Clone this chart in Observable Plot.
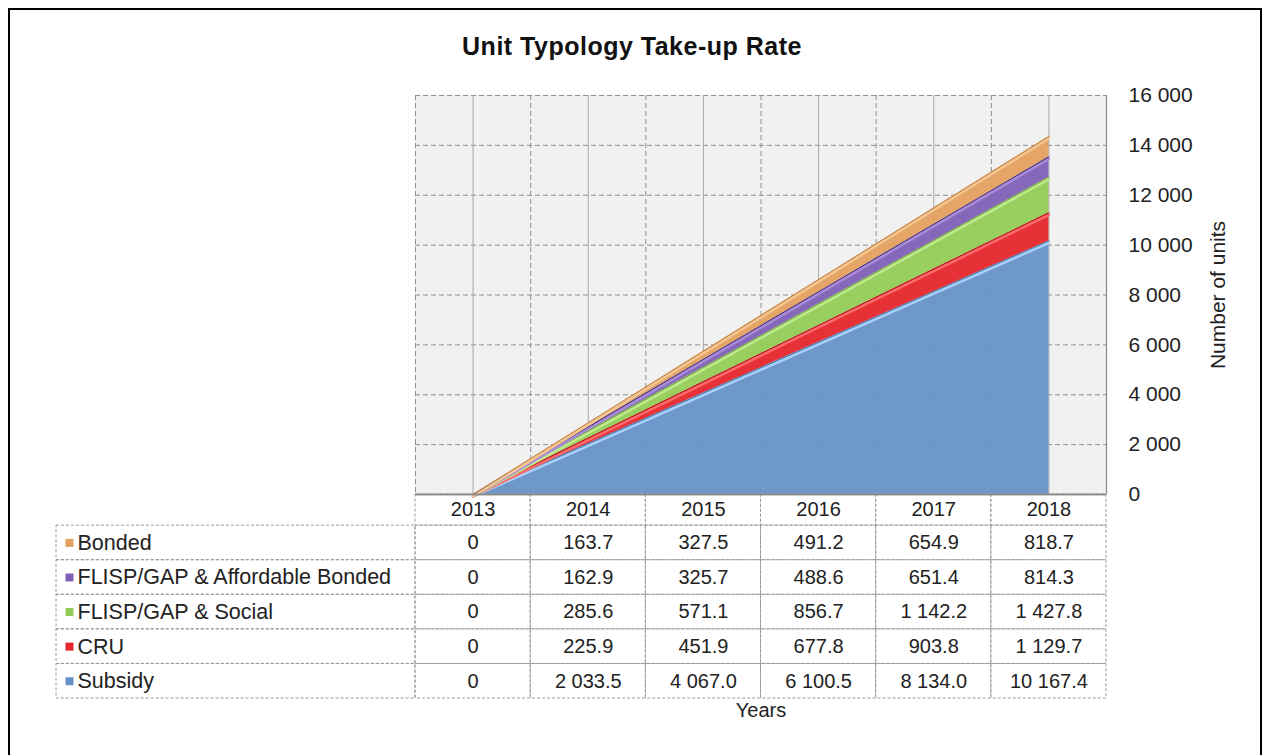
<!DOCTYPE html>
<html>
<head>
<meta charset="utf-8">
<script src="https://cdn.jsdelivr.net/npm/d3@7"></script>
<script src="https://cdn.jsdelivr.net/npm/@observablehq/plot@0.6"></script>
<style>
  html, body { margin: 0; padding: 0; background: #fff; overflow: hidden; }
  #root { position: relative; width: 1264px; height: 755px; font-family: "Liberation Sans", Arial, sans-serif; }
  #frame { position: absolute; left: 8px; top: 8px; width: 1250px; height: 800px; border: 2.5px solid #000; box-sizing: content-box; }
  #title { position: absolute; left: 0; width: 1264px; top: 32px; text-align: center; font-weight: bold; font-size: 25px; letter-spacing: 0.5px; color: #111; }
  #chart, #table { position: absolute; left: 0; }
  #chart { top: 0; }
  #table { top: 494px; }
  svg { overflow: visible; background: transparent !important; }
</style>
</head>
<body>
<div id="root">
  <div id="frame"></div>
  <div id="title">Unit Typology Take-up Rate</div>
  <div id="chart"></div>
  <div id="table"></div>
</div>
<script>
// ---- data ----
const years = [2013, 2014, 2015, 2016, 2017, 2018];
const seriesNames = ["Bonded", "FLISP/GAP & Affordable Bonded", "FLISP/GAP & Social", "CRU", "Subsidy"];
const bonded     = [0, 163.7, 327.5, 491.2, 654.9, 818.7];
const affordable = [0, 162.9, 325.7, 488.6, 651.4, 814.3];
const social     = [0, 285.6, 571.1, 856.7, 1142.2, 1427.8];
const cru        = [0, 225.9, 451.9, 677.8, 903.8, 1129.7];
const subsidy    = [0, 2033.5, 4067.0, 6100.5, 8134.0, 10167.4];
const yTicks = [0, 2000, 4000, 6000, 8000, 10000, 12000, 14000, 16000];
const seriesColors = ["#e3a05e", "#8060b6", "#92cc55", "#e5262b", "#6592c6"];
const seriesHighlights = ["#f3c692", "#a98ad8", "#bfe98f", "#ff6a6a", "#a9d0fa"];
const seriesShadows = ["#b97a3c", "#3e2a63", "#6a9a35", "#a81419", "#4a73a6"];

const valuesBySeries = [bonded, affordable, social, cru, subsidy];
const rows = seriesNames.map((name, i) => ({name, row: i, values: valuesBySeries[i]}));
const long = rows.flatMap(r => years.map((yr, j) => ({series: r.name, row: r.row, year: yr, value: r.values[j]})));
const stackOrder = ["Subsidy", "CRU", "FLISP/GAP & Social", "FLISP/GAP & Affordable Bonded", "Bonded"];

const loc = d3.formatLocale({decimal: ".", thousands: " ", grouping: [3], currency: ["", ""]});
const fmtTick = loc.format(",");
const fmt1 = loc.format(",.1f");
const fmtCell = v => v === 0 ? "0" : fmt1(v);

const W = 1264, mL = 415, mR = 158;
const bandPx = (W - mL - mR) / years.length;
const xLo = years[0] - 0.5, xHi = years[years.length - 1] + 0.5;
const labelColStart = xLo - (mL - 56) / bandPx;
const font = "Liberation Sans, Arial, sans-serif";
const gridColor = "#8f8f8f";

const stackedEdge = (s, stroke, width, dy) => Plot.lineY(long,
  Plot.filter(d => d.series === s,
    Plot.stackY2({x: "year", y: "value", z: "series", order: stackOrder, stroke, strokeWidth: width, dy})));

// ---- chart ----
const chart = Plot.plot({
  width: W, height: 494,
  marginTop: 95, marginBottom: 0, marginLeft: mL, marginRight: mR,
  style: {fontFamily: font, fontSize: "21px", color: "#222", background: "transparent", overflow: "visible"},
  x: {type: "linear", domain: [xLo, xHi], axis: null},
  y: {domain: [0, 16000], axis: null},
  color: {domain: seriesNames, range: seriesColors},
  marks: [
    Plot.rect([0], {x1: xLo, x2: xHi, y1: 0, y2: 16000, fill: "#f1f1f1"}),
    Plot.ruleY(yTicks.filter(d => d > 0), {stroke: gridColor, strokeDasharray: "5,3", strokeWidth: 1}),
    Plot.ruleX(years, {stroke: "#a8a8a8", strokeWidth: 1}),
    Plot.ruleX(d3.range(xLo, xHi, 1), {stroke: gridColor, strokeDasharray: "5,3", strokeWidth: 1}),
    Plot.areaY(long, {x: "year", y: "value", fill: "series", z: "series", order: stackOrder, fillOpacity: 0.95}),
    ...stackOrder.map(s => stackedEdge(s, seriesShadows[seriesNames.indexOf(s)], 1, 0)),
    ...stackOrder.map(s => stackedEdge(s, seriesHighlights[seriesNames.indexOf(s)], 2.5, 2)),
    Plot.ruleX([xHi], {stroke: "#8a8a8a", strokeWidth: 1.2}),
    Plot.ruleY([0], {stroke: "#8a8a8a", strokeWidth: 1.5}),
    Plot.axisY(yTicks, {anchor: "right", tickSize: 0, tickPadding: 22, textAnchor: "start", tickFormat: fmtTick, fontSize: 21, fill: "#222", label: null}),
    Plot.text(["Number of units"], {frameAnchor: "right", textAnchor: "middle", dx: 112, rotate: -90, fontSize: 21, fill: "#222", style: "letter-spacing:0.5px"})
  ]
});
document.getElementById("chart").appendChild(chart);

// ---- data table ----
const headerFrac = 0.9;
const tbl = Plot.plot({
  width: W, height: 240,
  marginTop: 0, marginBottom: 36, marginLeft: 56, marginRight: mR,
  style: {fontFamily: font, fontSize: "20px", color: "#222", background: "transparent", overflow: "visible"},
  x: {type: "linear", domain: [labelColStart, xHi], axis: null},
  y: {type: "linear", domain: [-headerFrac, rows.length], reverse: true, axis: null},
  marks: [
    Plot.rect(years, {x1: d => d - 0.5, x2: d => d + 0.5, y1: -headerFrac, y2: 0, stroke: "#9a9a9a", strokeDasharray: "3,2", fill: "none"}),
    Plot.rect(rows, {x1: labelColStart, x2: xLo, y1: d => d.row, y2: d => d.row + 1, stroke: "#9a9a9a", strokeDasharray: "3,2", fill: "none"}),
    Plot.rect(long, {x1: d => d.year - 0.5, x2: d => d.year + 0.5, y1: d => d.row, y2: d => d.row + 1, stroke: "#9a9a9a", strokeDasharray: "3,2", fill: "none"}),
    Plot.ruleY([-headerFrac], {x1: xLo, x2: xHi, stroke: "#8a8a8a", strokeWidth: 1.5}),
    Plot.text(years, {x: d => d, y: -headerFrac / 2, text: d => String(d), fontSize: 20, fill: "#222"}),
    Plot.dot(rows, {x: labelColStart, y: d => d.row + 0.5, dx: 13, symbol: "square", r: 4.5, fill: (d, i) => seriesColors[i]}),
    Plot.text(rows, {x: labelColStart, y: d => d.row + 0.5, dx: 21, text: "name", textAnchor: "start", fontSize: 21.5, fill: "#222", style: "letter-spacing:0.35px"}),
    Plot.text(long, {x: "year", y: d => d.row + 0.5, text: d => fmtCell(d.value), fontSize: 20, fill: "#222"}),
    Plot.text(["Years"], {x: d3.mean(years), frameAnchor: "bottom", dy: 18, fontSize: 20, fill: "#222"})
  ]
});
document.getElementById("table").appendChild(tbl);
</script>
</body>
</html>
